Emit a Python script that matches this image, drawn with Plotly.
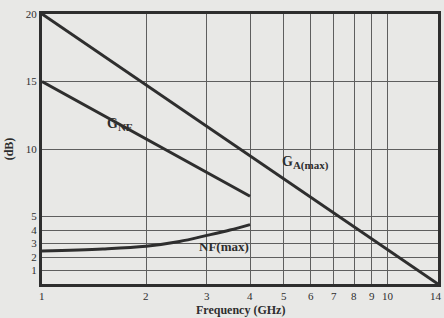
import plotly.graph_objects as go
import math

# Data
ga_freq = [1, 14]
ga_db = [20, 0]
gnf_freq = [1, 4]
gnf_db = [15, 6.5]
nf_freq = [1, 1.5, 2, 2.5, 3, 3.5, 4]
nf_db = [2.45, 2.6, 2.8, 3.15, 3.6, 4.0, 4.4]

x_ticks = [1, 2, 3, 4, 5, 6, 7, 8, 9, 10, 14]
y_ticks = [1, 2, 3, 4, 5, 10, 15, 20]

ink = "#2e2e2e"
grid = "#5e5e5e"
bg = "#e8e8e6"
font = "Liberation Serif"

fig = go.Figure()
for xs, ys in [(ga_freq, ga_db), (gnf_freq, gnf_db), (nf_freq, nf_db)]:
    fig.add_trace(go.Scatter(x=xs, y=ys, mode="lines",
                             line=dict(color=ink, width=3, shape="spline"),
                             showlegend=False, hoverinfo="skip"))

fig.update_layout(
    width=444, height=318,
    margin=dict(l=42, r=3, t=14, b=34),
    paper_bgcolor=bg, plot_bgcolor=bg,
    font=dict(family=font, color=ink, size=11),
    xaxis=dict(type="log", range=[0, math.log10(14)],
               tickvals=x_ticks, showticklabels=False,
               showgrid=True, gridcolor=grid, gridwidth=1,
               showline=True, linecolor=ink, linewidth=3, mirror=True,
               ticks="", zeroline=False),
    yaxis=dict(range=[0, 20], tickvals=y_ticks, ticktext=[str(v) for v in y_ticks],
               showgrid=True, gridcolor=grid, gridwidth=1,
               showline=True, linecolor=ink, linewidth=3, mirror=True,
               ticks="", tickfont=dict(size=11, family=font),
               title=dict(text="<b>(dB)</b>", font=dict(size=12, family=font), standoff=10),
               zeroline=False),
)

for v in x_ticks:
    fig.add_annotation(x=math.log10(v), xref="x", y=0, yref="paper", yanchor="middle",
                       yshift=-12, xshift=(-2 if v == 14 else 0), text=str(v), showarrow=False,
                       font=dict(size=11, family=font, color=ink))
fig.add_annotation(x=0.5, xref="paper", y=0, yref="paper", yanchor="middle", yshift=-26,
                   text="<b>Frequency (GHz)</b>", showarrow=False,
                   font=dict(size=12, family=font, color=ink))

fig.add_annotation(x=math.log10(1.68), y=11.8,
                   text="<b>G<sub><span style='font-size:11px'>NF</span></sub></b>",
                   showarrow=False, font=dict(size=14, family=font, color=ink))
fig.add_annotation(x=math.log10(5.8), y=9.0,
                   text="<b>G<sub><span style='font-size:11px'>A(max)</span></sub></b>",
                   showarrow=False, font=dict(size=14, family=font, color=ink))
fig.add_annotation(x=math.log10(3.37), y=2.75, text="<b>NF(max)</b>",
                   showarrow=False, font=dict(size=13, family=font, color=ink))

fig.write_html("out.html", config={"displayModeBar": False},
               post_script="document.body.style.margin='0';document.body.style.background='#e8e8e6';")
